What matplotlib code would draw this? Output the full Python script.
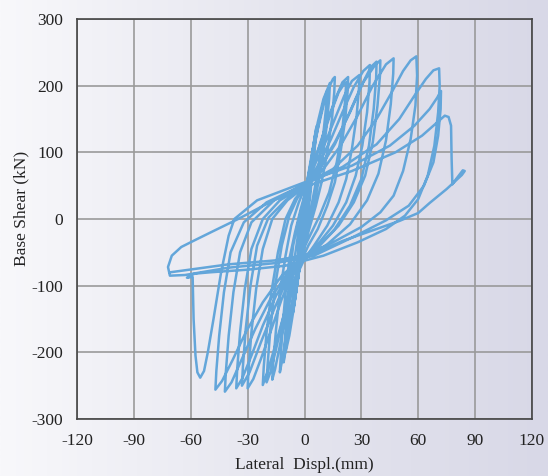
import numpy as np
import matplotlib
matplotlib.use('Agg')
import matplotlib.pyplot as plt
from matplotlib.colors import LinearSegmentedColormap

# hysteresis path, cycle by cycle (mm, kN)
elastic_x = [0, 2, 0.5, -1.5, -0.5, 3, 1, -2.5, -1, 4, 1.5, -3.5, -1.5, 5, 2, -4.5, -2,
             5.5, 2, -5, -2, 6.5, 3, -6, -3, 6, 2.5, -5.5, -2.5]
elastic_y = [0, 45, 5, -40, -5, 70, 10, -65, -10, 95, 20, -90, -20, 115, 25, -110, -25,
             125, 25, -120, -30, 140, 35, -140, -40, 135, 30, -130, -35]

cyc_a_x = [0, 2, 4, 6, 8, 10, 12, 11.5, 10, 8, 6, 4, 2, 0, -2, -4, -6, -8, -10, -9.5, -8.5, -7, -5, -3]
cyc_a_y = [10, 50, 88, 120, 150, 175, 193, 170, 130, 90, 55, 25, 0, -25, -60, -100, -140, -175, -200, -175, -135, -95, -55, -15]

cyc_a2_x = [-1, 1, 4, 7, 10, 13.4, 13, 11.5, 9, 6, 3, 0, -3, -6, -9, -11, -10.5, -9.5, -8, -6, -3]
cyc_a2_y = [15, 50, 100, 145, 180, 204, 180, 135, 80, 35, 0, -35, -80, -130, -180, -215, -190, -140, -90, -40, 0]

cyc_b_x = [-1, 1, 4, 7, 10, 13, 15, 16, 15.7, 14.5, 12, 9, 6, 3, 0, -3, -6, -9, -11, -13, -12.5, -11.5, -10, -8, -5, -2]
cyc_b_y = [20, 50, 95, 135, 170, 198, 210, 213, 190, 150, 100, 55, 20, -10, -40, -75, -115, -160, -200, -230, -205, -160, -110, -60, -20, 15]

cyc_c_x = [2, 5, 9, 13, 17, 20, 23, 22.7, 21.5, 19, 16, 12, 7, 2, -2, -6, -10, -13, -15.5, -17, -16.5, -15, -13, -10, -7, -3]
cyc_c_y = [55, 85, 120, 155, 185, 205, 213, 190, 150, 100, 55, 20, -15, -40, -65, -100, -145, -190, -225, -241, -215, -165, -110, -55, -10, 25]

cyc_c2_x = [1, 5, 9, 14, 18, 21, 22, 21.5, 20, 17, 13, 8, 2, -3, -7, -11, -15, -18, -20, -19.5, -18, -15.5, -12, -8, -4]
cyc_c2_y = [52, 85, 118, 160, 190, 203, 205, 180, 135, 85, 40, 5, -30, -60, -95, -145, -195, -230, -245, -220, -165, -100, -40, 5, 30]

cyc_d_x = [2, 6, 11, 16, 21, 25, 29, 28.7, 27.5, 25, 22, 18, 12, 5, 0, -5, -10, -15, -19, -22, -21.5, -20, -17.5, -14, -10, -5]
cyc_d_y = [58, 85, 115, 150, 185, 207, 216, 195, 155, 105, 60, 25, -10, -40, -60, -90, -135, -185, -225, -249, -222, -170, -110, -50, 0, 30]

cyc_e_x = [2, 8, 14, 20, 26, 31, 34.5, 34.3, 33, 30.5, 27, 22, 15, 7, 0, -6, -12, -18, -23, -27, -30, -29.5, -28, -25.5, -22, -17, -9]
cyc_e_y = [55, 85, 120, 160, 198, 222, 231, 205, 160, 110, 65, 25, -10, -38, -58, -80, -120, -170, -210, -240, -254, -225, -170, -105, -45, 0, 28]

cyc_f_x = [0, 8, 16, 24, 31, 37, 40, 39.8, 38.5, 36, 32, 26, 18, 8, 0, -8, -15, -22, -28, -33, -36, -35.5, -34, -31.5, -28, -22, -13]
cyc_f_y = [50, 78, 115, 160, 205, 230, 238, 215, 170, 115, 65, 25, -10, -40, -60, -82, -115, -160, -205, -240, -254, -225, -170, -105, -45, 0, 28]

cyc_f2_x = [0, 8, 16, 23, 30, 35, 38, 37.8, 36.5, 34, 30, 24, 16, 6, -2, -9, -16, -23, -29, -33, -32.5, -31, -28.5, -25, -19, -10]
cyc_f2_y = [48, 75, 112, 155, 200, 228, 236, 212, 165, 110, 60, 20, -15, -45, -62, -90, -135, -185, -230, -250, -222, -165, -100, -40, 2, 28]

cyc_g_x = [0, 10, 19, 28, 36, 43, 47, 46.8, 45.5, 43, 39, 33, 24, 12, 0, -10, -18, -26, -33, -38.5, -42, -41.5, -40, -37.5, -34, -28, -16]
cyc_g_y = [50, 75, 110, 155, 200, 232, 241, 218, 172, 118, 68, 28, -8, -38, -60, -85, -120, -165, -210, -245, -259, -230, -175, -110, -50, -5, 28]

cyc_h_x = [0, 15, 28, 38, 46, 52, 56, 59, 59.4, 58.5, 56, 52, 47, 40, 30, 15, 0, -12, -22, -31, -38, -43.5, -47, -46.5, -45, -42.5, -39, -32, -20]
cyc_h_y = [52, 75, 110, 150, 190, 222, 238, 244, 215, 170, 120, 72, 35, 10, -12, -35, -55, -85, -125, -170, -212, -243, -256, -228, -175, -110, -50, -5, 25]

cyc_i_x = [0, 20, 38, 50, 58, 64, 68, 71, 71.3, 70.5, 68.5, 65, 60, 53, 43, 28, 10, -10, -30, -50, -58, -62, -59, -58.5, -57.5, -56.5, -55, -53, -51, -48, -44, -40, -37, -25]
cyc_i_y = [52, 78, 112, 150, 185, 210, 223, 226, 200, 160, 110, 65, 30, 5, -15, -35, -55, -70, -76, -80, -82, -88, -87, -150, -205, -230, -238, -228, -200, -150, -80, -25, 0, 28]

cyc_j_x = [0, 25, 45, 58, 66, 70, 72, 71.8, 70.5, 68, 63, 55, 43, 25, 5, -15, -40, -63, -71, -72, -70, -65, -58, -48, -35, -15, 0]
cyc_j_y = [55, 80, 110, 140, 165, 182, 192, 165, 125, 85, 50, 20, -2, -28, -55, -66, -73, -84, -85, -72, -55, -42, -32, -18, 0, 30, 48]

cyc_k_x = [25, 48, 62, 70, 74, 76, 77.3, 77.6, 78, 80, 83.5, 84.5, 83, 75, 66, 60, 50, 35, 20, 5, -15, -40, -71]
cyc_k_y = [72, 100, 125, 145, 155, 153, 140, 90, 52, 60, 73, 72, 66, 45, 24, 9, -3, -18, -33, -52, -62, -68, -80]

cycles_x = [elastic_x, cyc_a_x, cyc_a2_x, cyc_b_x, cyc_c_x, cyc_c2_x, cyc_d_x, cyc_e_x,
            cyc_f2_x, cyc_f_x, cyc_g_x, cyc_h_x, cyc_i_x, cyc_j_x, cyc_k_x]
cycles_y = [elastic_y, cyc_a_y, cyc_a2_y, cyc_b_y, cyc_c_y, cyc_c2_y, cyc_d_y, cyc_e_y,
            cyc_f2_y, cyc_f_y, cyc_g_y, cyc_h_y, cyc_i_y, cyc_j_y, cyc_k_y]

x_ticks = [-120, -90, -60, -30, 0, 30, 60, 90, 120]
y_ticks = [-300, -200, -100, 0, 100, 200, 300]

plt.rcParams['font.family'] = ['Liberation Serif', 'DejaVu Serif']
plt.rcParams['axes.unicode_minus'] = False

fig = plt.figure(figsize=(5.48, 4.76), dpi=100)

# gradient page background
bg = fig.add_axes([0, 0, 1, 1], zorder=-10)
cmap = LinearSegmentedColormap.from_list('bg', ['#f8f8fb', '#e6e6ef', '#d8d8e7'])
bg.imshow(np.linspace(0, 1, 256).reshape(1, -1), aspect='auto', cmap=cmap,
          extent=[0, 1, 0, 1])
bg.axis('off')

ax = fig.add_axes([77 / 548, 57 / 476, 455 / 548, 400 / 476])
ax.set_facecolor('none')

path_x = np.concatenate([np.asarray(c, dtype=float) for c in cycles_x])
path_y = np.concatenate([np.asarray(c, dtype=float) for c in cycles_y])
ax.plot(path_x, path_y, color='#63a6da', lw=1.8, solid_joinstyle='round', zorder=3)

ax.set_xlim(-120, 120)
ax.set_ylim(-300, 300)
ax.set_xticks(x_ticks)
ax.set_yticks(y_ticks)
ax.grid(True, color='#9a9a9a', lw=1.2, zorder=0)
ax.set_axisbelow(True)
ax.tick_params('both', length=0, labelsize=12.5, colors='#222222')
ax.tick_params('x', pad=10)
ax.tick_params('y', pad=10)

for s in ax.spines.values():
    s.set_color('#444444')
    s.set_linewidth(1.2)

ax.set_xlabel('Lateral  Displ.(mm)', fontsize=12.5, color='#222222')
ax.set_ylabel('Base Shear (kN)', fontsize=12.5, color='#222222')
ax.xaxis.set_label_coords(0.5, -0.095)
ax.yaxis.set_label_coords(-0.105, 0.5275)

fig.savefig('out.png', dpi=100)
